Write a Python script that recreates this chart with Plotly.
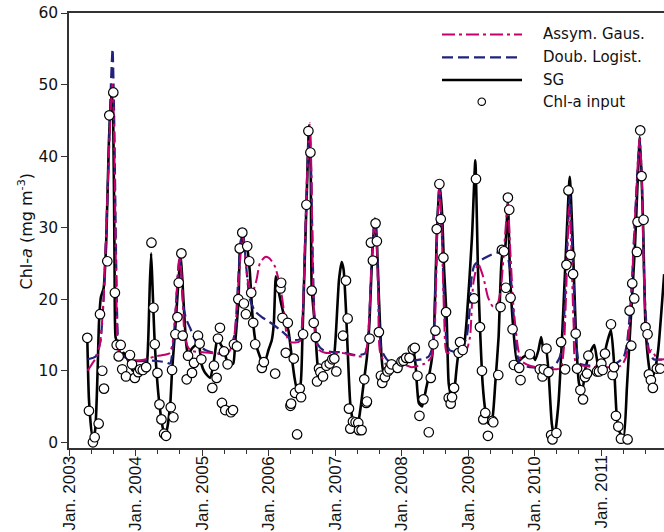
import plotly.graph_objects as go

# ---------------- data (decimal years, Chl-a mg m-3) ----------------
obs_t = [2003.275, 2003.30, 2003.36, 2003.386, 2003.446, 2003.466, 2003.50, 2003.526, 2003.576, 2003.606,
         2003.666, 2003.69, 2003.717, 2003.747, 2003.777, 2003.80, 2003.857, 2003.917, 2003.947, 2003.99,
         2004.04, 2004.07, 2004.11, 2004.16, 2004.24, 2004.27, 2004.29, 2004.33, 2004.36, 2004.39,
         2004.43, 2004.46, 2004.53, 2004.55, 2004.57, 2004.60, 2004.63, 2004.65, 2004.69, 2004.71,
         2004.77, 2004.79, 2004.85, 2004.88, 2004.94, 2004.965, 2004.99, 2005.155, 2005.18, 2005.22,
         2005.24, 2005.27, 2005.30, 2005.33, 2005.35, 2005.385, 2005.435, 2005.466, 2005.48, 2005.526,
         2005.546, 2005.567, 2005.606, 2005.63, 2005.66, 2005.68, 2005.71, 2005.74, 2005.77, 2005.80,
         2005.90, 2005.93, 2006.10, 2006.18, 2006.19, 2006.21, 2006.26, 2006.29, 2006.33, 2006.34,
         2006.38, 2006.40, 2006.43, 2006.47, 2006.49, 2006.52, 2006.57, 2006.60, 2006.63, 2006.65,
         2006.68, 2006.71, 2006.73, 2006.76, 2006.78, 2006.82, 2006.87, 2006.92, 2006.96, 2006.99,
         2007.02, 2007.12, 2007.165, 2007.19, 2007.21, 2007.23, 2007.27, 2007.31, 2007.35, 2007.36,
         2007.40, 2007.44, 2007.47, 2007.48, 2007.52, 2007.54, 2007.57, 2007.61, 2007.63, 2007.66,
         2007.69, 2007.71, 2007.75, 2007.79, 2007.82, 2007.85, 2007.94, 2008.00, 2008.03, 2008.07,
         2008.12, 2008.17, 2008.20, 2008.24, 2008.27, 2008.33, 2008.41, 2008.44, 2008.48, 2008.51,
         2008.53, 2008.57, 2008.59, 2008.63, 2008.67, 2008.71, 2008.74, 2008.76, 2008.79, 2008.86,
         2008.88, 2008.92, 2009.09, 2009.12, 2009.18, 2009.21, 2009.23, 2009.26, 2009.30, 2009.365,
         2009.38, 2009.455, 2009.49, 2009.51, 2009.54, 2009.57, 2009.60, 2009.62, 2009.64, 2009.67,
         2009.69, 2009.77, 2009.79, 2009.93, 2010.08, 2010.12, 2010.14, 2010.18, 2010.21, 2010.25,
         2010.27, 2010.33, 2010.40, 2010.46, 2010.48, 2010.51, 2010.54, 2010.58, 2010.62, 2010.64,
         2010.69, 2010.73, 2010.76, 2010.79, 2010.81, 2010.94, 2010.97, 2011.005, 2011.025, 2011.06,
         2011.15, 2011.175, 2011.195, 2011.225, 2011.26, 2011.30, 2011.40, 2011.43, 2011.455, 2011.47,
         2011.50, 2011.54, 2011.55, 2011.59, 2011.61, 2011.64, 2011.67, 2011.70, 2011.72, 2011.75,
         2011.78, 2011.84, 2011.89]
obs_v = [14.6, 4.4, 0.0, 0.7, 2.6, 17.9, 10.0, 7.5, 25.3, 45.7,
         48.9, 20.9, 13.6, 12.0, 13.6, 10.2, 9.2, 12.2, 10.9, 9.0,
         9.8, 10.2, 10.1, 10.5, 27.9, 18.8, 13.7, 9.7, 5.3, 3.2,
         1.2, 0.9, 4.9, 10.1, 3.5, 15.1, 17.5, 22.3, 26.4, 14.9,
         8.8, 12.1, 9.7, 11.1, 14.9, 13.8, 11.6, 7.6, 10.7, 9.0,
         14.5, 16.0, 5.5, 12.7, 4.5, 10.9, 4.2, 4.5, 13.7, 13.4,
         20.0, 27.1, 29.3, 19.4, 17.9, 27.4, 25.3, 20.9, 16.7, 13.7,
         10.4, 11.2, 9.6, 21.5, 22.3, 17.4, 12.5, 16.7, 5.1, 5.4,
         11.7, 6.9, 1.1, 7.5, 6.3, 15.1, 33.2, 43.5, 40.5, 21.2,
         16.7, 14.7, 8.5, 10.3, 9.8, 9.2, 10.7, 11.0, 11.6, 11.7,
         9.9, 14.9, 22.6, 17.3, 4.7, 1.9, 2.9, 2.8, 2.7, 1.7,
         1.7, 8.8, 5.5, 5.7, 14.5, 27.9, 25.4, 30.6, 28.1, 15.4,
         9.3, 8.3, 9.1, 9.9, 10.2, 10.9, 10.4, 11.3, 11.4, 11.8,
         11.8, 13.0, 13.2, 9.3, 3.7, 6.0, 1.4, 9.0, 13.7, 15.6,
         29.8, 36.1, 31.2, 25.8, 18.2, 6.2, 5.4, 6.3, 7.6, 12.5,
         14.0, 12.9, 20.1, 36.8, 16.1, 10.0, 3.2, 4.1, 0.9, 3.0,
         2.8, 9.4, 18.9, 26.9, 26.7, 21.6, 34.2, 32.5, 20.2, 15.8,
         10.8, 10.4, 8.7, 12.3, 10.2, 9.2, 10.2, 13.1, 9.8, 1.0,
         0.4, 1.3, 14.0, 10.2, 24.8, 35.2, 26.2, 23.5, 15.2, 10.3,
         7.3, 6.0, 9.1, 9.6, 12.1, 9.9, 9.9, 11.0, 10.1, 12.4,
         16.5, 9.4, 10.5, 3.7, 2.2, 0.5, 0.4, 18.4, 13.5, 22.2,
         20.1, 26.6, 30.8, 43.6, 37.2, 31.1, 16.1, 15.1, 9.5, 8.7,
         7.6, 10.3, 10.3]

sg_t = [2003.275, 2003.30, 2003.35, 2003.39, 2003.43, 2003.45, 2003.48, 2003.52, 2003.56, 2003.60,
        2003.64, 2003.665, 2003.685, 2003.70, 2003.74, 2003.78, 2003.82, 2003.86, 2003.91, 2003.96,
        2004.05, 2004.16, 2004.19, 2004.215, 2004.235, 2004.255, 2004.29, 2004.36, 2004.42, 2004.46,
        2004.52, 2004.55, 2004.60, 2004.64, 2004.68, 2004.72, 2004.76, 2004.79, 2004.84, 2004.92,
        2004.96, 2004.99, 2005.04, 2005.12, 2005.17, 2005.22, 2005.25, 2005.28, 2005.33, 2005.37,
        2005.42, 2005.47, 2005.50, 2005.55, 2005.57, 2005.61, 2005.64, 2005.68, 2005.72, 2005.76,
        2005.81, 2005.87, 2005.93, 2006.00, 2006.05, 2006.08, 2006.11, 2006.14, 2006.19, 2006.25,
        2006.30, 2006.35, 2006.39, 2006.43, 2006.48, 2006.51, 2006.54, 2006.57, 2006.61, 2006.635,
        2006.65, 2006.70, 2006.74, 2006.78, 2006.85, 2006.93, 2006.98, 2007.01, 2007.06, 2007.10,
        2007.13, 2007.165, 2007.195, 2007.23, 2007.28, 2007.33, 2007.38, 2007.43, 2007.48, 2007.52,
        2007.56, 2007.60, 2007.63, 2007.66, 2007.70, 2007.73, 2007.80, 2007.91, 2008.01, 2008.11,
        2008.17, 2008.21, 2008.26, 2008.31, 2008.37, 2008.43, 2008.46, 2008.49, 2008.53, 2008.57,
        2008.61, 2008.64, 2008.68, 2008.71, 2008.76, 2008.80, 2008.85, 2008.90, 2008.93, 2008.98,
        2009.06, 2009.11, 2009.15, 2009.18, 2009.22, 2009.26, 2009.31, 2009.36, 2009.41, 2009.46,
        2009.51, 2009.56, 2009.60, 2009.63, 2009.68, 2009.74, 2009.83, 2009.96, 2010.01, 2010.06,
        2010.10, 2010.14, 2010.17, 2010.21, 2010.26, 2010.30, 2010.36, 2010.41, 2010.46, 2010.53,
        2010.58, 2010.62, 2010.67, 2010.72, 2010.77, 2010.83, 2010.90, 2010.97, 2011.02, 2011.08,
        2011.15, 2011.19, 2011.24, 2011.29, 2011.34, 2011.39, 2011.44, 2011.51, 2011.585, 2011.63,
        2011.67, 2011.72, 2011.76, 2011.81, 2011.86, 2011.95]
sg_v = [14.6, 6.0, 0.8, 1.5, 10.0, 16.5, 20.3, 21.5, 28.0, 42.0,
        49.2, 45.0, 25.0, 14.7, 13.5, 12.0, 12.5, 12.0, 11.0, 10.0,
        10.0, 10.5, 14.0, 22.0, 26.4, 22.0, 13.7, 5.3, 1.7, 1.3,
        5.0, 10.0, 16.2, 21.7, 26.3, 20.0, 14.0, 12.0, 13.0, 13.7,
        13.3, 11.0, 9.8, 9.0, 10.8, 14.0, 14.6, 13.7, 13.0, 11.5,
        10.8, 11.0, 14.0, 20.0, 27.0, 29.0, 27.3, 27.0, 23.7, 17.6,
        13.8, 12.0, 10.8, 12.9, 14.3, 16.6, 23.2, 21.7, 19.4, 17.1,
        15.6, 11.9, 9.1, 7.3, 8.0, 14.7, 24.0, 33.0, 44.3, 38.0,
        21.4, 16.2, 10.7, 9.6, 10.5, 11.4, 11.8, 14.7, 22.7, 25.2,
        24.1, 18.5, 11.9, 5.4, 2.6, 1.9, 4.5, 8.2, 11.9, 17.1,
        26.4, 31.3, 27.8, 20.3, 11.9, 9.6, 10.5, 11.0, 11.4, 12.2,
        13.3, 11.0, 5.5, 5.0, 7.5, 10.1, 11.9, 15.6, 28.7, 36.2,
        32.0, 24.2, 17.2, 8.2, 5.9, 7.7, 11.9, 12.8, 12.9, 17.1,
        28.7, 39.4, 24.0, 16.1, 8.2, 4.5, 2.6, 3.0, 8.2, 14.7,
        25.9, 27.3, 33.6, 24.0, 16.1, 11.2, 11.9, 12.5, 11.5, 12.9,
        14.7, 12.7, 13.6, 10.0, 2.6, 0.6, 5.4, 13.8, 24.0, 37.1,
        26.7, 15.9, 8.2, 7.3, 10.5, 12.4, 13.6, 10.0, 10.5, 13.5,
        15.7, 11.9, 3.3, 1.2, 0.7, 7.7, 15.9, 27.3, 42.7, 31.4,
        16.1, 10.7, 8.8, 10.1, 12.9, 23.5]

dl_t = [2003.28, 2003.40, 2003.47, 2003.52, 2003.58, 2003.63, 2003.655, 2003.68, 2003.71, 2003.74,
        2003.78, 2003.95, 2004.25, 2004.45, 2004.52, 2004.56, 2004.60, 2004.64, 2004.665, 2004.69,
        2004.72, 2004.76, 2004.82, 2004.93, 2005.05, 2005.25, 2005.38, 2005.43, 2005.49, 2005.54,
        2005.59, 2005.62, 2005.66, 2005.72, 2005.80, 2005.90, 2006.05, 2006.19, 2006.30, 2006.35,
        2006.47, 2006.51, 2006.55, 2006.60, 2006.62, 2006.64, 2006.67, 2006.70, 2006.74, 2006.82,
        2006.96, 2007.10, 2007.30, 2007.45, 2007.50, 2007.55, 2007.59, 2007.61, 2007.64, 2007.67,
        2007.70, 2007.80, 2008.01, 2008.16, 2008.31, 2008.41, 2008.47, 2008.51, 2008.55, 2008.57,
        2008.60, 2008.64, 2008.68, 2008.72, 2008.87, 2008.92, 2008.98, 2009.02, 2009.05, 2009.10,
        2009.28, 2009.43, 2009.58, 2009.63, 2009.68, 2009.73, 2009.78, 2009.93, 2010.28, 2010.38,
        2010.43, 2010.48, 2010.53, 2010.58, 2010.63, 2010.68, 2010.97, 2011.22, 2011.34, 2011.39,
        2011.45, 2011.52, 2011.58, 2011.61, 2011.66, 2011.72, 2011.79, 2011.95]
dl_v = [11.6, 12.0, 14.0, 20.0, 35.0, 50.0, 55.0, 45.0, 25.0, 14.0,
        12.3, 11.4, 11.4, 11.2, 11.0, 13.0, 18.0, 24.0, 26.0, 23.0,
        19.0, 17.3, 16.0, 13.7, 12.9, 12.4, 13.0, 13.5, 15.0, 22.0,
        28.5, 29.0, 25.0, 20.0, 18.3, 17.5, 16.6, 15.6, 14.7, 14.3,
        14.4, 17.0, 28.0, 42.0, 44.0, 38.0, 24.0, 16.0, 13.7, 12.9,
        12.6, 12.6, 12.2, 12.4, 15.0, 25.0, 30.5, 31.0, 25.0, 16.0,
        12.9, 11.4, 11.0, 11.4, 11.6, 12.0, 13.5, 22.0, 33.0, 35.8,
        31.0, 20.0, 14.0, 12.9, 12.6, 13.3, 14.7, 18.0, 22.7, 24.8,
        25.9, 26.5, 26.2, 24.4, 18.5, 12.9, 11.0, 10.5, 10.5, 11.9,
        15.0, 25.0, 34.4, 24.4, 13.8, 11.0, 10.7, 11.0, 11.9, 13.8,
        20.0, 33.0, 42.0, 38.0, 20.0, 12.9, 11.6, 11.6]

ag_t = [2003.28, 2003.35, 2003.42, 2003.47, 2003.52, 2003.58, 2003.63, 2003.655, 2003.68, 2003.71,
        2003.74, 2003.78, 2003.90, 2004.10, 2004.30, 2004.47, 2004.52, 2004.56, 2004.60, 2004.64,
        2004.67, 2004.70, 2004.73, 2004.77, 2004.83, 2005.00, 2005.25, 2005.40, 2005.47, 2005.52,
        2005.57, 2005.61, 2005.65, 2005.70, 2005.76, 2005.82, 2005.87, 2005.95, 2006.00, 2006.05,
        2006.10, 2006.18, 2006.23, 2006.28, 2006.33, 2006.47, 2006.51, 2006.55, 2006.60, 2006.62,
        2006.645, 2006.67, 2006.70, 2006.76, 2006.85, 2007.10, 2007.40, 2007.46, 2007.50, 2007.55,
        2007.59, 2007.62, 2007.65, 2007.68, 2007.80, 2008.00, 2008.15, 2008.25, 2008.35, 2008.45,
        2008.50, 2008.54, 2008.57, 2008.60, 2008.64, 2008.68, 2008.76, 2008.90, 2008.98, 2009.03,
        2009.08, 2009.15, 2009.23, 2009.30, 2009.38, 2009.45, 2009.50, 2009.55, 2009.60, 2009.63,
        2009.68, 2009.75, 2009.80, 2009.93, 2010.33, 2010.40, 2010.44, 2010.48, 2010.52, 2010.55,
        2010.59, 2010.63, 2010.97, 2011.30, 2011.38, 2011.44, 2011.52, 2011.58, 2011.61, 2011.66,
        2011.72, 2011.76, 2011.85, 2011.95]
ag_v = [10.0, 11.0, 12.0, 14.0, 20.0, 35.0, 47.0, 50.0, 42.0, 22.0,
        13.0, 12.0, 11.5, 11.5, 12.0, 12.3, 12.5, 14.0, 18.0, 24.0,
        26.0, 22.0, 16.0, 13.7, 12.8, 12.6, 12.4, 12.6, 14.0, 18.0,
        25.0, 29.0, 26.0, 22.0, 21.0, 22.7, 25.0, 25.9, 25.8, 25.3,
        24.5, 21.6, 18.5, 14.7, 14.0, 14.1, 17.0, 28.0, 42.0, 44.6,
        38.0, 22.0, 15.0, 12.9, 12.5, 12.5, 12.0, 12.4, 15.0, 25.0,
        30.0, 29.0, 20.0, 12.5, 10.5, 11.0, 10.5, 10.7, 11.0, 11.9,
        16.0, 30.0, 36.0, 31.0, 18.0, 12.5, 12.6, 12.6, 13.0, 14.7,
        22.2, 25.0, 23.1, 20.3, 18.9, 19.5, 22.0, 28.0, 33.4, 28.0,
        19.4, 13.3, 11.4, 10.7, 10.2, 10.5, 13.0, 22.0, 33.0, 28.0,
        16.0, 11.0, 10.5, 10.7, 12.0, 18.0, 33.0, 42.5, 38.0, 19.0,
        12.5, 12.9, 11.6, 11.6]

year_ticks = [2003, 2004, 2005, 2006, 2007, 2008, 2009, 2010, 2011]
year_labels = ["Jan. " + str(y) for y in year_ticks]
legend_names = ["Assym. Gaus.", "Doub. Logist.", "SG", "Chl-a input"]

# ---------------- styling ----------------
MAGENTA = "#C4006C"
NAVY = "#22227C"
FONT = "DejaVu Sans"
W, H = 664, 532
L, R, T, B = 69, 0, 13, 84
PW, PH = W - L - R, H - T - B
PX_PER_YEAR = 66.5

def xp(px):
    return (px - L) / PW

def yp(py):
    return (H - B - py) / PH

fig = go.Figure()
fig.add_trace(go.Scatter(x=sg_t, y=sg_v, mode="lines", name=legend_names[2],
                         line=dict(color="black", width=2.6, shape="spline", smoothing=0.5)))
fig.add_trace(go.Scatter(x=dl_t, y=dl_v, mode="lines", name=legend_names[1],
                         line=dict(color=NAVY, width=2.2, dash="11px,5px", shape="spline", smoothing=0.6)))
fig.add_trace(go.Scatter(x=ag_t, y=ag_v, mode="lines", name=legend_names[0],
                         line=dict(color=MAGENTA, width=2.0, dash="13px,4px,3px,4px", shape="spline", smoothing=0.6)))
fig.add_trace(go.Scatter(x=obs_t, y=obs_v, mode="markers", name=legend_names[3],
                         marker=dict(symbol="circle", size=9.5, color="white",
                                     line=dict(color="black", width=1.2))))

minor_vals = [y + k / 3 for y in year_ticks + [2012] for k in (1, 2)]

fig.update_layout(
    width=W, height=H, showlegend=False,
    margin=dict(l=L, r=R, t=T, b=B, pad=0, autoexpand=False),
    paper_bgcolor="white", plot_bgcolor="white",
    font=dict(family=FONT, size=15, color="#111"),
    xaxis=dict(range=[2003, 2003 + PW / PX_PER_YEAR], tickmode="array", tickvals=year_ticks,
               ticktext=year_labels, showticklabels=False, ticks="outside", ticklen=6, tickwidth=1.3,
               tickcolor="#333", showline=True, linecolor="#333", linewidth=1.5, mirror=True,
               showgrid=False, zeroline=False, automargin=False,
               minor=dict(tickvals=minor_vals, ticks="outside", ticklen=4, tickwidth=1.2, tickcolor="#333")),
    yaxis=dict(range=[-0.8, 60], tickmode="array", tickvals=[0, 10, 20, 30, 40, 50, 60],
               ticks="outside", ticklen=6, tickwidth=1.3, tickcolor="#333", showline=True,
               linecolor="#333", linewidth=1.5, showgrid=False, zeroline=False, automargin=False,
               tickfont=dict(size=15.5)),
)

# rotated x tick labels placed just below the ticks
for yr, lab in zip(year_ticks, year_labels):
    fig.add_annotation(x=yr, y=yp(455), xref="x", yref="paper", xanchor="center", yanchor="top",
                       text=lab, textangle=-90, showarrow=False, borderpad=0,
                       font=dict(size=17, family="Liberation Sans", color="#111"))

# y-axis title
fig.add_annotation(x=xp(26), y=0.5, xref="paper", yref="paper", xanchor="center", yanchor="middle",
                   text="Chl-<i>a</i> (mg m<sup>-3</sup>)", textangle=-90, showarrow=False,
                   font=dict(size=16, family=FONT))

# custom legend (long line samples as in the reference)
rows = [34.5, 57.3, 80.0, 101.7]
styles = [dict(color=MAGENTA, width=2.0, dash="13px,4px,3px,4px"),
          dict(color=NAVY, width=2.2, dash="11px,5px"),
          dict(color="black", width=2.6)]
for i in range(3):
    fig.add_shape(type="line", xref="paper", yref="paper", x0=xp(442), x1=xp(522),
                  y0=yp(rows[i]), y1=yp(rows[i]), line=styles[i])
fig.add_shape(type="circle", xref="paper", yref="paper", x0=xp(478), x1=xp(485.5),
              y0=yp(rows[3] + 3.7), y1=yp(rows[3] - 3.7),
              line=dict(color="black", width=1.1), fillcolor="white")
for i, name in enumerate(legend_names):
    fig.add_annotation(x=xp(541), y=yp(rows[i]), xref="paper", yref="paper", xanchor="left",
                       yanchor="middle", text=name, showarrow=False, font=dict(size=15, family=FONT))

fig.write_html("out.html", config={"displayModeBar": False},
               post_script="document.body.style.margin='0px';")
